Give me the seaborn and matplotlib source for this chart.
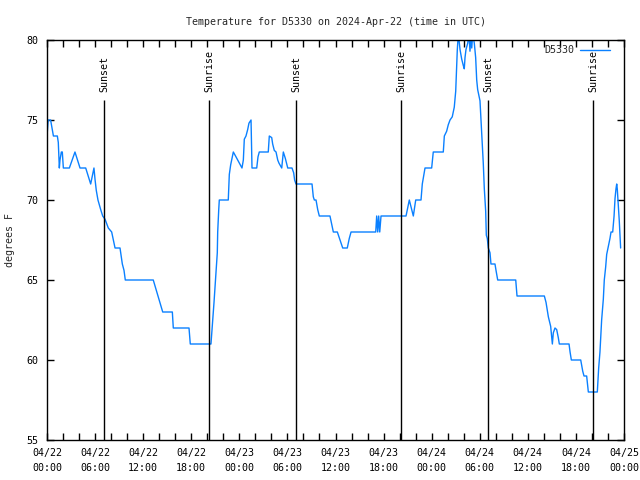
import matplotlib
matplotlib.use("Agg")
import matplotlib.pyplot as plt
import matplotlib.dates as mdates
import seaborn as sns
import pandas as pd
import numpy as np

# ---- data ----
station = "D5330"
start = "2024-04-22 00:00"
hours = [0.0, 0.15, 0.45, 0.8, 1.29, 1.41, 1.54, 1.62, 1.79, 1.91, 2.04, 2.2, 2.79, 3.49, 4.12, 4.83,
         5.45, 5.57, 5.86, 5.99, 6.15, 6.36, 6.7, 6.95, 7.24, 7.65, 8.07, 8.49, 9.11, 9.4, 9.61, 9.77,
         13.26, 14.44, 15.64, 15.76, 17.72, 17.88, 20.46, 20.68, 20.84, 21.09, 21.25, 21.3, 21.43, 21.5,
         22.62, 22.75, 22.92, 23.25, 23.58, 24.33, 24.5, 24.62, 24.83, 25.04, 25.2, 25.46, 25.58, 26.17,
         26.33, 26.49, 27.61, 27.74, 28.04, 28.16, 28.36, 28.58, 28.79, 28.95, 29.29, 29.49, 29.74, 30.04,
         30.57, 30.78, 30.9, 31.07, 33.07, 33.23, 33.36, 33.57, 33.78, 33.98, 35.31, 35.73, 36.23, 36.56,
         36.9, 37.47, 37.72, 37.94, 41.02, 41.14, 41.27, 41.39, 41.52, 41.68, 44.8, 45.21, 45.71, 46.01,
         46.67, 46.83, 47.17, 48.0, 48.2, 49.45, 49.58, 49.87, 50.07, 50.29, 50.57, 50.82, 51.0, 51.12,
         51.2, 51.33, 51.54, 51.75, 51.95, 52.07, 52.16, 52.28, 52.5, 52.66, 52.78, 52.91, 53.0, 53.12,
         53.32, 53.49, 53.62, 53.74, 53.91, 54.03, 54.24, 54.44, 54.57, 54.74, 54.82, 54.94, 55.07, 55.28,
         55.4, 55.9, 56.03, 56.24, 58.49, 58.65, 62.06, 62.27, 62.56, 62.85, 63.06, 63.18, 63.39, 63.6,
         63.8, 63.93, 65.14, 65.27, 65.43, 66.6, 66.85, 67.01, 67.34, 67.55, 68.67, 68.84, 69.0, 69.21,
         69.42, 69.54, 69.71, 69.84, 70.04, 70.25, 70.38, 70.59, 70.76, 70.88, 71.0, 71.09, 71.16, 71.29,
         71.41, 71.58]
temps = [74, 75, 75, 74, 74, 73.6, 72, 72.5, 73, 73, 72, 72, 72, 73, 72, 72,
         71, 71.3, 72, 71.3, 70.6, 70, 69.4, 69, 68.8, 68.25, 68, 67, 67, 66, 65.6, 65,
         65, 63, 63, 62, 62, 61, 61, 62.5, 63.6, 65.5, 66.7, 68, 69.4, 70,
         70, 71.6, 72.2, 73, 72.7, 72, 72.5, 73.8, 74, 74.4, 74.8, 75, 72, 72,
         72.7, 73, 73, 74, 73.9, 73.5, 73.1, 73, 72.5, 72.3, 72, 73, 72.6, 72,
         72, 71.7, 71.25, 71, 71, 70.2, 70, 70, 69.4, 69, 69, 68, 68, 67.5,
         67, 67, 67.6, 68, 68, 69, 68, 69, 68, 69, 69, 70, 69, 70,
         70, 71, 72, 72, 73, 73, 74, 74.3, 74.7, 75, 75.2, 75.8, 76.8, 78.3,
         79.4, 80.4, 79.4, 78.8, 78.4, 78.2, 78.9, 79.4, 79.8, 80.4, 79.3, 80.4, 79.5, 80.4,
         79.8, 78.9, 77.5, 76.9, 76.5, 76.2, 74.2, 72.3, 70.7, 69.3, 67.8, 67.6, 67, 66.7,
         66, 66, 65.6, 65, 65, 64, 64, 63.6, 62.7, 62.1, 61, 61.7, 62, 61.9,
         61.4, 61, 61, 60.5, 60, 60, 59.3, 59, 59, 58, 58, 59.5, 60.5, 62.5,
         63.8, 65, 65.8, 66.6, 67.1, 67.6, 68, 68, 69, 70.1, 70.7, 71, 70.7, 69.7,
         68.7, 67]
sun_labels = ["Sunset", "Sunrise", "Sunset", "Sunrise", "Sunset", "Sunrise"]
sun_hours = [7.11, 20.2, 31.07, 44.17, 55.03, 68.13]
y_ticks = [55, 60, 65, 70, 75, 80]

# ---- build ----
t0 = pd.Timestamp(start)
df = pd.DataFrame({"time": t0 + pd.to_timedelta(hours, unit="h"), "temp": temps})
sun_times = [t0 + pd.Timedelta(hours=h) for h in sun_hours]

sns.set_theme(style="ticks")
mono = ["DejaVu Sans Mono", "Liberation Mono"]
plt.rcParams["font.family"] = mono
plt.rcParams["font.size"] = 7.2

fig = plt.figure(figsize=(6.4, 4.8), dpi=100)
ax = fig.add_axes([47 / 640, 1 - 440 / 480, 577 / 640, 400 / 480])

sns.lineplot(data=df, x="time", y="temp", ax=ax, color="#0a80ff", linewidth=1.0,
             label=station, estimator=None, sort=False)

ax.set_xlim(t0, t0 + pd.Timedelta(hours=72))
ax.set_ylim(55, 80)
ax.set_yticks(y_ticks)

for tm, lab in zip(sun_times, sun_labels):
    ax.vlines(tm, 55, 76.25, color="black", linewidth=1.0)
    ax.text(tm, 76.72, lab, rotation=90, ha="center", va="bottom", fontsize=7.2,
            color="black")

ax.xaxis.set_major_locator(mdates.HourLocator(byhour=[0, 6, 12, 18]))
ax.xaxis.set_minor_locator(mdates.HourLocator(byhour=range(0, 24, 2)))
ax.xaxis.set_major_formatter(mdates.DateFormatter("%m/%d\n%H:%M"))

ax.tick_params(axis="both", which="both", direction="in", top=True, right=True,
               colors="black", labelsize=7.2, width=1.0)
ax.tick_params(axis="both", which="major", length=5)
ax.tick_params(axis="x", which="minor", length=5)
ax.tick_params(axis="y", pad=6)
ax.tick_params(axis="x", pad=6)
for lab in ax.get_xticklabels():
    lab.set_linespacing(1.6)

for s in ax.spines.values():
    s.set_color("black")
    s.set_linewidth(1.0)

ax.set_xlabel("")
ax.set_ylabel("degrees F", fontsize=7.2)
ax.yaxis.set_label_coords(-0.055, 0.5)
ax.set_title("Temperature for D5330 on 2024-Apr-22 (time in UTC)", fontsize=7.2, pad=11)

leg = ax.legend(loc="upper right", bbox_to_anchor=(0.9827, 0.997), frameon=False,
                markerfirst=False, handlelength=3.0, fontsize=7.2, borderaxespad=0.0,
                handletextpad=0.6)

fig.savefig("out.png", dpi=100, facecolor="white")
